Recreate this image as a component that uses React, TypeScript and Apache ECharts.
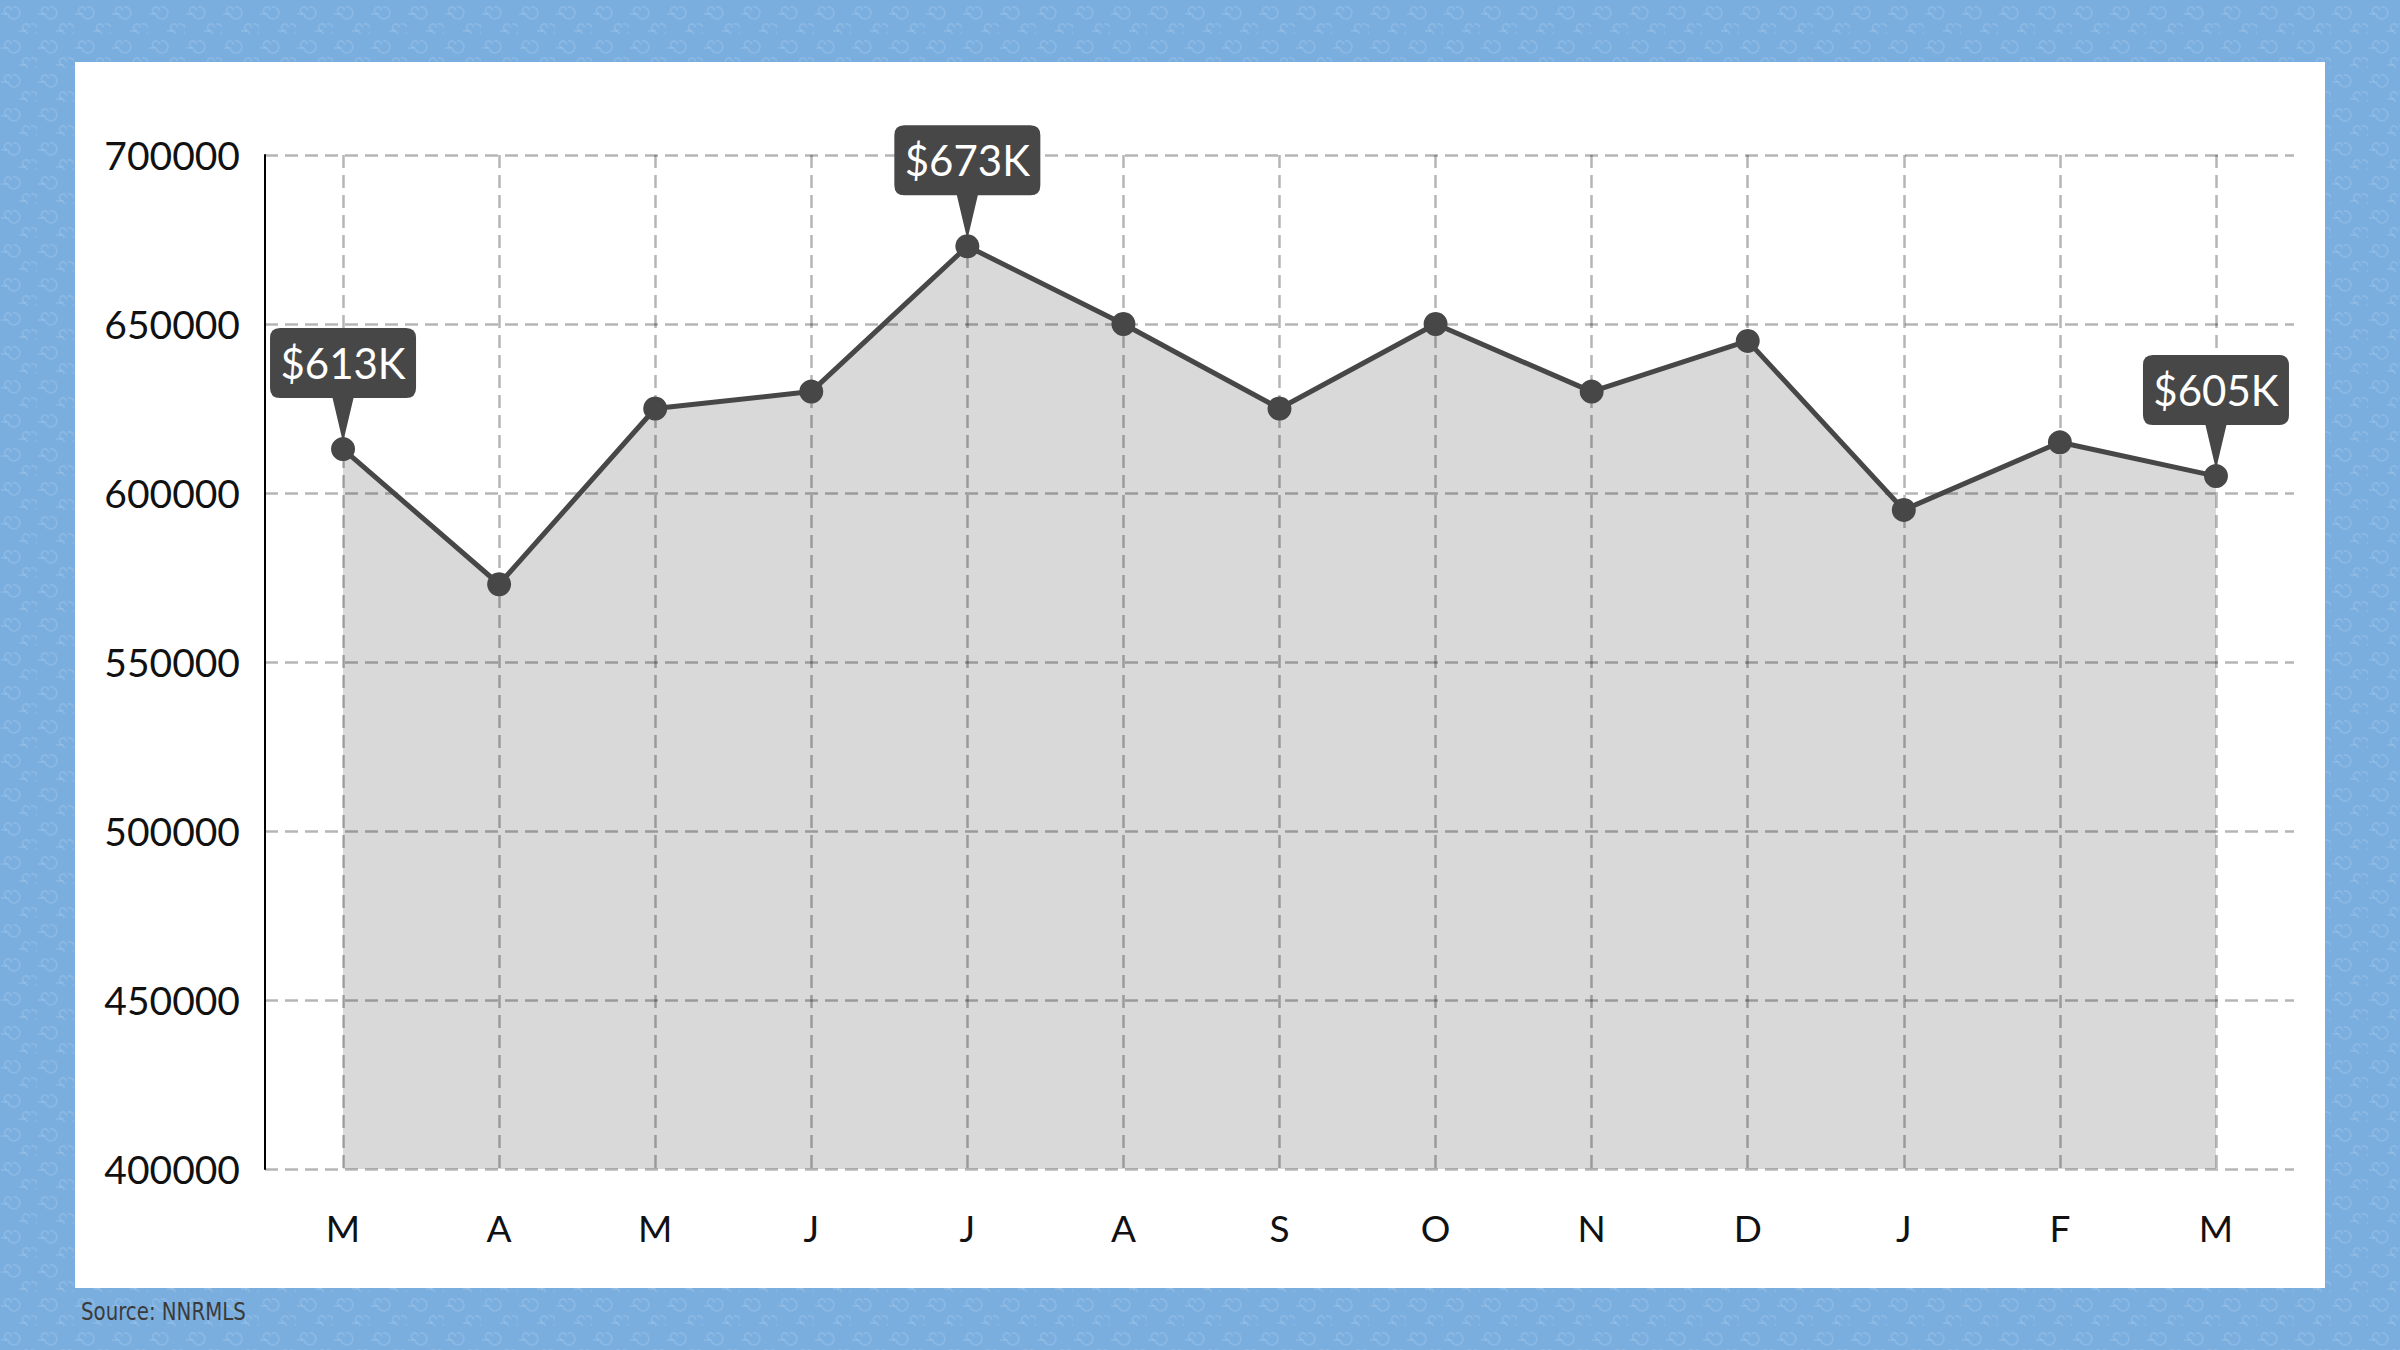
import { useEffect, useRef } from 'react';
import * as echarts from 'echarts';

const months = ['M', 'A', 'M', 'J', 'J', 'A', 'S', 'O', 'N', 'D', 'J', 'F', 'M'];
const medianPrice = [613000, 573000, 625000, 630000, 673000, 650000, 625000, 650000, 630000, 645000, 595000, 615000, 605000];
const calloutIdx = [0, 4, 12];
const yMin = 400000;
const yMax = 700000;
const yStep = 50000;

const FONT = 'Lato, "Open Sans", sans-serif';
const INK = '#474747';
const GRID = 'rgba(0,0,0,0.29)';

// callout bubble: rounded box with a pointer under it, tip at (73,111)
const BUBBLE = 'path://M10,0 H136 Q146,0 146,10 V60 Q146,70 136,70 H83.5 L73.8,111 L72.2,111 L62.5,70 H10 Q0,70 0,60 V10 Q0,0 10,0 Z';

const swirl = encodeURIComponent(
  `<svg xmlns="http://www.w3.org/2000/svg" width="37" height="34" viewBox="0 0 37 34">` +
    `<g fill="none" stroke="rgba(255,255,255,0.12)" stroke-width="1.8">` +
    `<path d="M13 7 a6 6 0 1 1 -5 7 a3.5 3.5 0 1 1 3.5 -3.5"/>` +
    `<path d="M1 14 h6"/>` +
    `<path d="M31 24 a6 6 0 1 1 -5 7 a3.5 3.5 0 1 1 3.5 -3.5"/>` +
    `<path d="M19 31 h6"/>` +
    `</g></svg>`
);

function PriceChart() {
  const ref = useRef<HTMLDivElement | null>(null);
  useEffect(() => {
    if (!ref.current) return;
    const chart = echarts.init(ref.current, undefined, { renderer: 'svg' });
    chart.setOption({
      animation: false,
      backgroundColor: 'transparent',
      grid: { left: 265, right: 106, top: 155, bottom: 181, containLabel: false, outerBoundsMode: 'none' },
      xAxis: {
        type: 'category',
        data: months,
        boundaryGap: true,
        z: 2,
        axisLine: { show: false },
        axisTick: { show: false },
        axisLabel: { color: '#111', fontFamily: FONT, fontSize: 37, margin: 40 },
        splitLine: { show: true, alignWithLabel: true, lineStyle: { color: GRID, width: 2.5, type: [13, 7] } },
      },
      yAxis: {
        type: 'value',
        min: yMin,
        max: yMax,
        interval: yStep,
        z: 2,
        axisLine: { show: true, lineStyle: { color: '#000', width: 2 } },
        axisTick: { show: false },
        axisLabel: { color: '#111', fontFamily: FONT, fontSize: 39, margin: 25, formatter: (v: number) => String(v) },
        splitLine: { show: true, lineStyle: { color: GRID, width: 2.5, type: [13, 7] } },
      },
      series: [
        {
          type: 'line',
          z: 1,
          data: medianPrice,
          symbol: 'none',
          lineStyle: { width: 0 },
          areaStyle: { color: '#d9d9d9', opacity: 1, origin: 'start' },
          silent: true,
        },
        {
          type: 'line',
          z: 3,
          data: medianPrice,
          symbol: 'circle',
          symbolSize: 24,
          lineStyle: { color: INK, width: 5 },
          itemStyle: { color: INK },
          markPoint: {
            z: 6,
            symbol: BUBBLE,
            symbolSize: [146, 111],
            symbolOffset: [0, -65.5],
            itemStyle: { color: INK },
            label: {
              show: true,
              position: 'inside',
              offset: [0, -20.5],
              color: '#fff',
              fontFamily: FONT,
              fontSize: 42,
              formatter: '{c}',
            },
            data: calloutIdx.map((i) => ({
              coord: [i, medianPrice[i]],
              value: `$${Math.round(medianPrice[i] / 1000)}K`,
            })),
          },
        },
      ],
      graphic: [
        {
          type: 'text',
          left: 81,
          top: 1299,
          scaleX: 0.88,
          style: { text: 'Source: NNRMLS', fill: '#3b3b3b', font: '25px "DejaVu Sans Condensed", "Liberation Sans Narrow", sans-serif' },
        },
      ],
    });
    return () => chart.dispose();
  }, []);
  return <div ref={ref} style={{ position: 'absolute', left: 0, top: 0, width: 2400, height: 1350 }} />;
}

export default function App() {
  return (
    <div
      style={{
        position: 'absolute',
        left: 0,
        top: 0,
        width: 2400,
        height: 1350,
        overflow: 'hidden',
        backgroundColor: '#7aaedf',
        backgroundImage: `url("data:image/svg+xml,${swirl}")`,
      }}
    >
      <div style={{ position: 'absolute', left: 75, top: 62, width: 2250, height: 1226, background: '#fff' }} />
      <PriceChart />
    </div>
  );
}
